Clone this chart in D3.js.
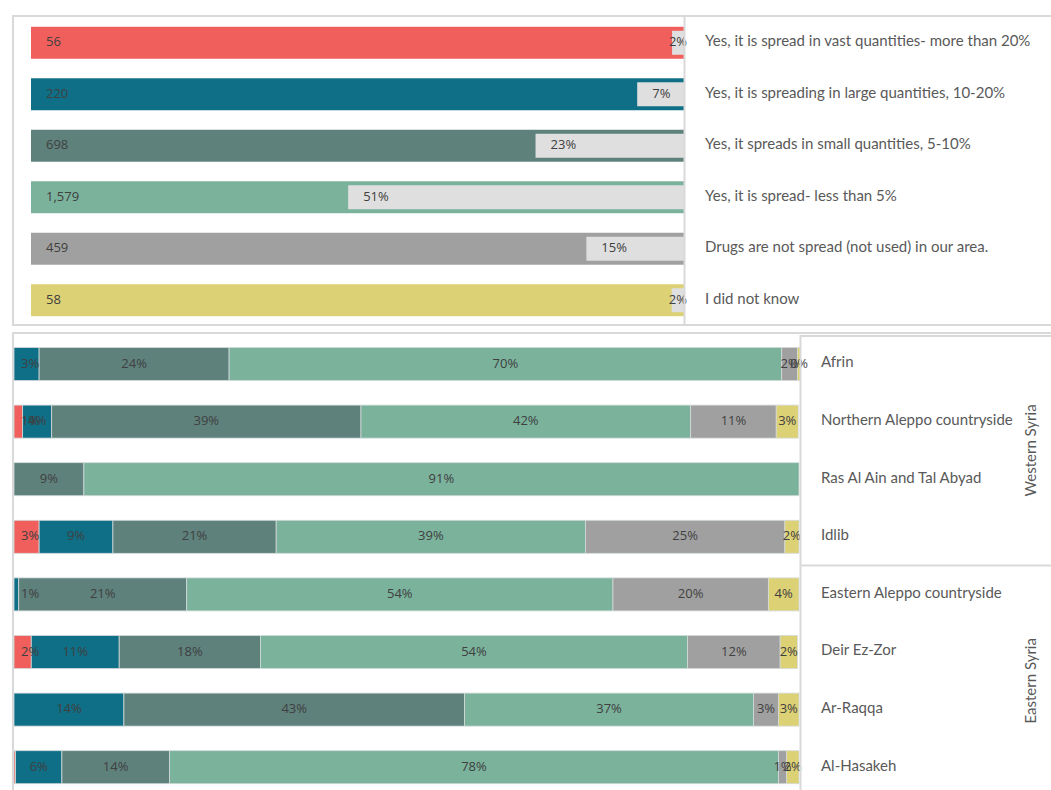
<!DOCTYPE html>
<html>
<head>
<meta charset="utf-8">
<script src="https://cdn.jsdelivr.net/npm/d3@7"></script>
<style>
  html, body { margin: 0; padding: 0; background: #fff; }
  svg { display: block; }
</style>
</head>
<body>
<svg id="chart" width="1051" height="790"></svg>
<script>
// Answer options for "Are drugs spread in your area?"
const answers = [
  "Yes, it is spread in vast quantities- more than 20%",
  "Yes, it is spreading in large quantities, 10-20%",
  "Yes, it spreads in small quantities, 5-10%",
  "Yes, it is spread- less than 5%",
  "Drugs are not spread (not used) in our area.",
  "I did not know"
];
// Number of respondents per answer
const counts = [56, 220, 698, 1579, 459, 58];
const answerColors = ["#f15f5c", "#0e6f87", "#5e817c", "#7ab29c", "#a0a0a0", "#ddd176"];

// Regions and their groups
const regions = [
  "Afrin", "Northern Aleppo countryside", "Ras Al Ain and Tal Abyad", "Idlib",
  "Eastern Aleppo countryside", "Deir Ez-Zor", "Ar-Raqqa", "Al-Hasakeh"
];
const regionGroups = [
  { name: "Western Syria", from: 0, to: 3 },
  { name: "Eastern Syria", from: 4, to: 7 }
];
// Share of each answer per region, in percent (same order as answers)
const shareVast    = [0,    1.1,  0,    3.2,  0,    2.2,  0,    0.2];
const shareLarge   = [3.2,  3.7,  0,    9.4,  0.6,  11.2, 14.0, 5.9];
const shareSmall   = [24.2, 39.4, 8.9,  20.8, 21.4, 18.0, 43.4, 13.7];
const shareLess5   = [70.4, 42.0, 91.1, 39.4, 54.3, 54.4, 36.8, 77.6];
const shareNot     = [2.0,  10.9, 0,    25.4, 19.8, 11.8, 3.2,  1.0];
const shareUnknown = [0.4,  2.8,  0,    1.8,  3.9,  2.2,  2.6,  1.6];

const svg = d3.select("#chart");
const border = "#d9d9d9";
const textGrey = "#595959";
const labelGrey = "#404040";
const valueFont = "'Open Sans', 'Noto Sans', sans-serif";
const catFont = "Lato, 'Open Sans', sans-serif";
const pct = d3.format(".0%");

// ---------- Panel frames ----------
svg.append("rect").attr("x", 13).attr("y", 16).attr("width", 1050).attr("height", 309)
  .attr("fill", "none").attr("stroke", border).attr("stroke-width", 2);
svg.append("rect").attr("x", 13).attr("y", 333).attr("width", 1050).attr("height", 500)
  .attr("fill", "none").attr("stroke", border).attr("stroke-width", 2);

// ---------- Top chart: totals per answer ----------
const total = d3.sum(counts);
const topData = answers.map((a, i) => ({ answer: a, count: counts[i], share: counts[i] / total, color: answerColors[i] }));

const xTop = d3.scaleLinear().domain([0, 1]).range([31, 684]);
const yTop = d3.scaleBand().domain(answers).range([17, 326]).paddingInner(0.379).paddingOuter(0.19);

const topG = svg.append("g");
const rows = topG.selectAll("g.row").data(topData).join("g").attr("class", "row");

rows.append("rect")
  .attr("x", xTop(0)).attr("y", d => yTop(d.answer))
  .attr("width", xTop(1) - xTop(0)).attr("height", yTop.bandwidth())
  .attr("fill", d => d.color);

rows.append("rect")
  .attr("x", d => xTop(1 - d.share)).attr("y", d => yTop(d.answer) + 4)
  .attr("width", d => xTop(1) - xTop(1 - d.share)).attr("height", yTop.bandwidth() - 8)
  .attr("fill", "#dfdfdf");

rows.append("text")
  .attr("x", xTop(0) + 15).attr("y", d => yTop(d.answer) + yTop.bandwidth() / 2)
  .attr("dy", "0.28em")
  .attr("font-family", valueFont).attr("font-size", 13).attr("fill", labelGrey)
  .text(d => d3.format(",")(d.count));

rows.append("text")
  .attr("y", d => yTop(d.answer) + yTop.bandwidth() / 2)
  .attr("dy", "0.28em")
  .attr("font-family", valueFont).attr("font-size", 13).attr("fill", labelGrey)
  .text(d => pct(d.share))
  .each(function (d) {
    const w = this.getComputedTextLength();
    const left = xTop(1 - d.share), right = xTop(1);
    if (right - left >= w + 20) {
      d3.select(this).attr("x", left + 15).attr("text-anchor", "start");
    } else {
      d3.select(this).attr("x", (left + right) / 2).attr("text-anchor", "middle");
    }
  });

// category axis on the right side of the bars
topG.append("line").attr("x1", 684.5).attr("x2", 684.5).attr("y1", 16).attr("y2", 325)
  .attr("stroke", border).attr("stroke-width", 2);

topG.selectAll("text.cat").data(answers).join("text").attr("class", "cat")
  .attr("x", 705).attr("y", d => yTop(d) + yTop.bandwidth() / 2)
  .attr("dy", "0.22em")
  .attr("font-family", catFont).attr("font-size", 15).attr("fill", textGrey)
  .text(d => d);

// ---------- Bottom chart: shares per region ----------
const shareSeries = [shareVast, shareLarge, shareSmall, shareLess5, shareNot, shareUnknown];
const table = regions.map((r, i) => {
  const row = { region: r };
  answers.forEach((a, k) => { row[a] = shareSeries[k][i] / 100; });
  return row;
});
const stacked = d3.stack().keys(answers)(table);

const xBot = d3.scaleLinear().domain([0, 1]).range([14, 799]);
const yBot = d3.scaleBand().domain(regions).range([335.2, 796]).paddingInner(0.427).paddingOuter(0.2135);

const botG = svg.append("g");
const layers = botG.selectAll("g.layer").data(stacked).join("g").attr("class", "layer")
  .attr("fill", (d, i) => answerColors[i]);

layers.selectAll("rect").data(d => d.filter(p => p[1] - p[0] > 0)).join("rect")
  .attr("x", p => xBot(p[0])).attr("y", p => yBot(p.data.region))
  .attr("width", p => xBot(p[1]) - xBot(p[0])).attr("height", yBot.bandwidth())
  .attr("stroke", "#d3dada").attr("stroke-width", 0.8);

const valueLabels = botG.append("g");
stacked.forEach(layer => {
  valueLabels.selectAll(null).data(layer.filter(p => p[1] - p[0] >= 0.003)).join("text")
    .attr("y", p => yBot(p.data.region) + yBot.bandwidth() / 2)
    .attr("dy", "0.28em")
    .attr("text-anchor", "middle")
    .attr("font-family", valueFont).attr("font-size", 13).attr("fill", labelGrey)
    .text(p => pct(p[1] - p[0]))
    .each(function (p) {
      const w = this.getComputedTextLength();
      const c = (xBot(p[0]) + xBot(p[1])) / 2;
      d3.select(this).attr("x", Math.max(c, xBot(0) + 7 + w / 2));
    });
});

// multi-level category axis on the right
botG.append("line").attr("x1", 800.5).attr("x2", 800.5).attr("y1", 335).attr("y2", 790)
  .attr("stroke", border).attr("stroke-width", 2);
botG.append("line").attr("x1", 800).attr("x2", 1051).attr("y1", 336).attr("y2", 336)
  .attr("stroke", border).attr("stroke-width", 2);

const groupEdge = g => yBot(regions[g.to]) + yBot.step() - (yBot.step() - yBot.bandwidth()) / 2;
botG.append("line").attr("x1", 800).attr("x2", 1051)
  .attr("y1", groupEdge(regionGroups[0])).attr("y2", groupEdge(regionGroups[0]))
  .attr("stroke", border).attr("stroke-width", 2);

botG.selectAll("text.region").data(regions).join("text").attr("class", "region")
  .attr("x", 821).attr("y", d => yBot(d) + yBot.bandwidth() / 2)
  .attr("dy", "0.22em")
  .attr("font-family", catFont).attr("font-size", 15).attr("fill", textGrey)
  .text(d => d);

botG.selectAll("text.group").data(regionGroups).join("text").attr("class", "group")
  .attr("transform", g => {
    const y0 = yBot(regions[g.from]) - (yBot.step() - yBot.bandwidth()) / 2;
    const y1 = yBot(regions[g.to]) + yBot.bandwidth() + (yBot.step() - yBot.bandwidth()) / 2;
    return `translate(1036,${(y0 + y1) / 2}) rotate(-90)`;
  })
  .attr("text-anchor", "middle")
  .attr("font-family", catFont).attr("font-size", 15).attr("fill", textGrey)
  .text(g => g.name);
</script>
</body>
</html>
